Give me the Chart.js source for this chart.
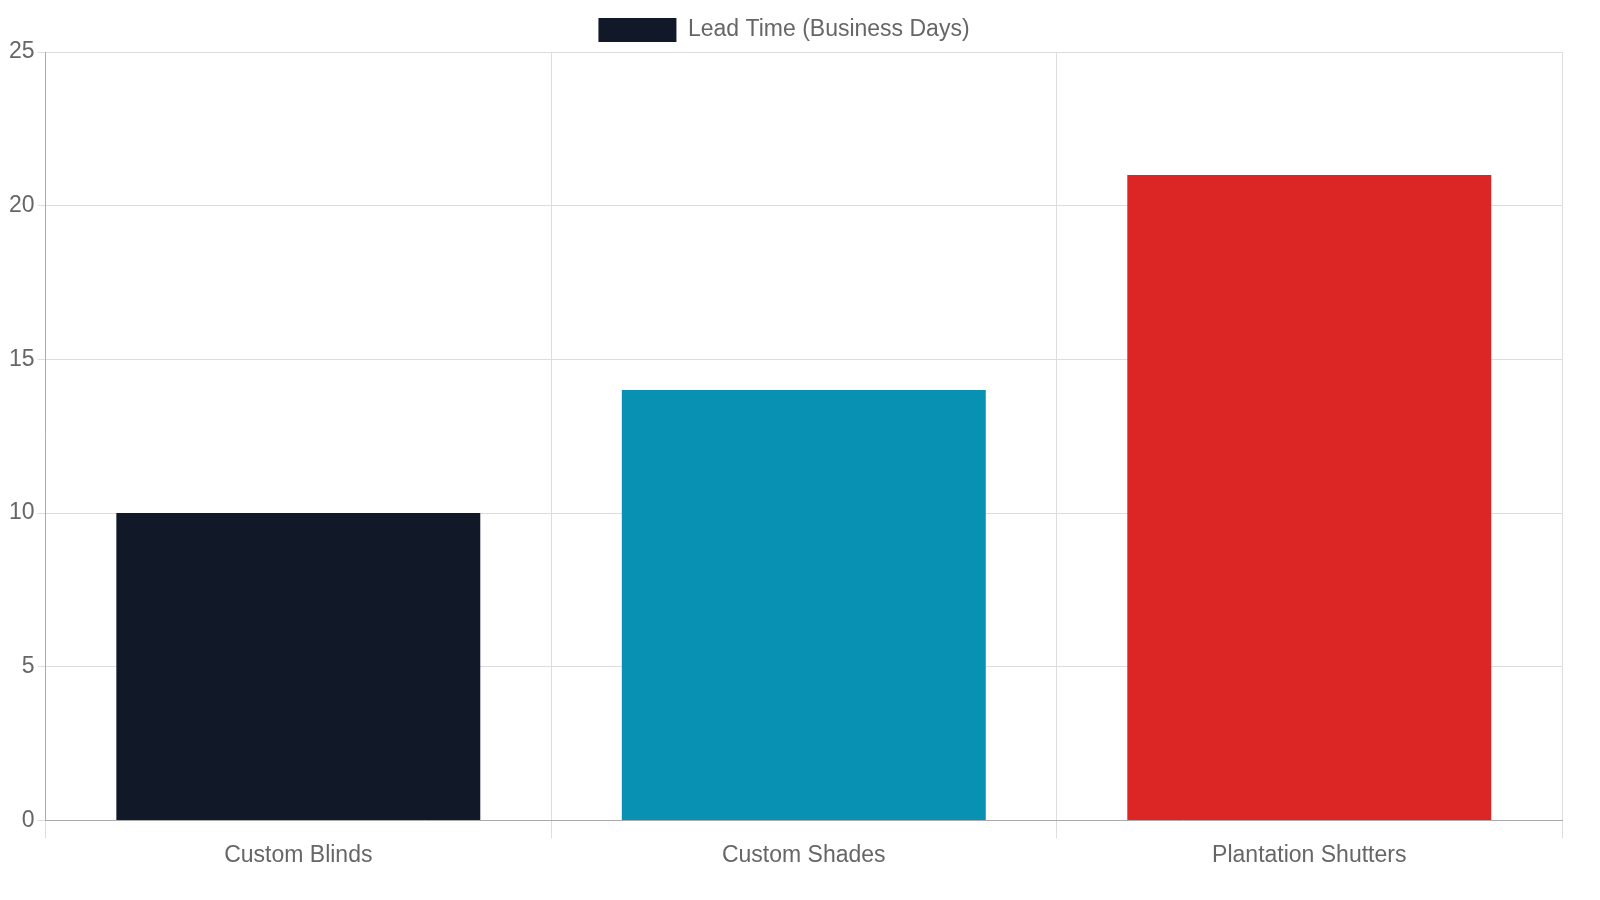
<!DOCTYPE html>
<html>
<head>
<meta charset="utf-8">
<script src="https://cdn.jsdelivr.net/npm/chart.js@4/dist/chart.umd.min.js"></script>
<style>
  html, body { margin: 0; background: #fff; }
  .wrap { width: 1600px; height: 900px; }
</style>
</head>
<body>
<div class="wrap"><canvas id="chart"></canvas></div>
<script>
const categories = ['Custom Blinds', 'Custom Shades', 'Plantation Shutters'];
const leadTimes = [10, 14, 21];
const barColors = ['#111827', '#0891b2', '#dc2626'];

Chart.defaults.font.family = '"Liberation Sans", Arial, sans-serif';
Chart.defaults.font.size = 23;
Chart.defaults.color = '#666';

new Chart(document.getElementById('chart'), {
	type: 'bar',
	data: {
		labels: categories,
		datasets: [{
			label: 'Lead Time (Business Days)',
			data: leadTimes,
			backgroundColor: barColors,
		}],
	},
	options: {
		responsive: true,
		maintainAspectRatio: false,
		animation: false,
		layout: { padding: { left: 6, right: 38, top: 8, bottom: 28 } },
		plugins: {
			legend: {
				labels: { boxWidth: 78, boxHeight: 24 },
			},
		},
		scales: {
			x: {
				grid: { color: '#ddd', tickLength: 18 },
				border: { color: '#aaa' },
			},
			y: {
				beginAtZero: true,
				max: 25,
				ticks: { stepSize: 5 },
				grid: { color: '#ddd' },
				border: { color: '#aaa' },
			},
		},
	},
});
</script>
</body>
</html>
